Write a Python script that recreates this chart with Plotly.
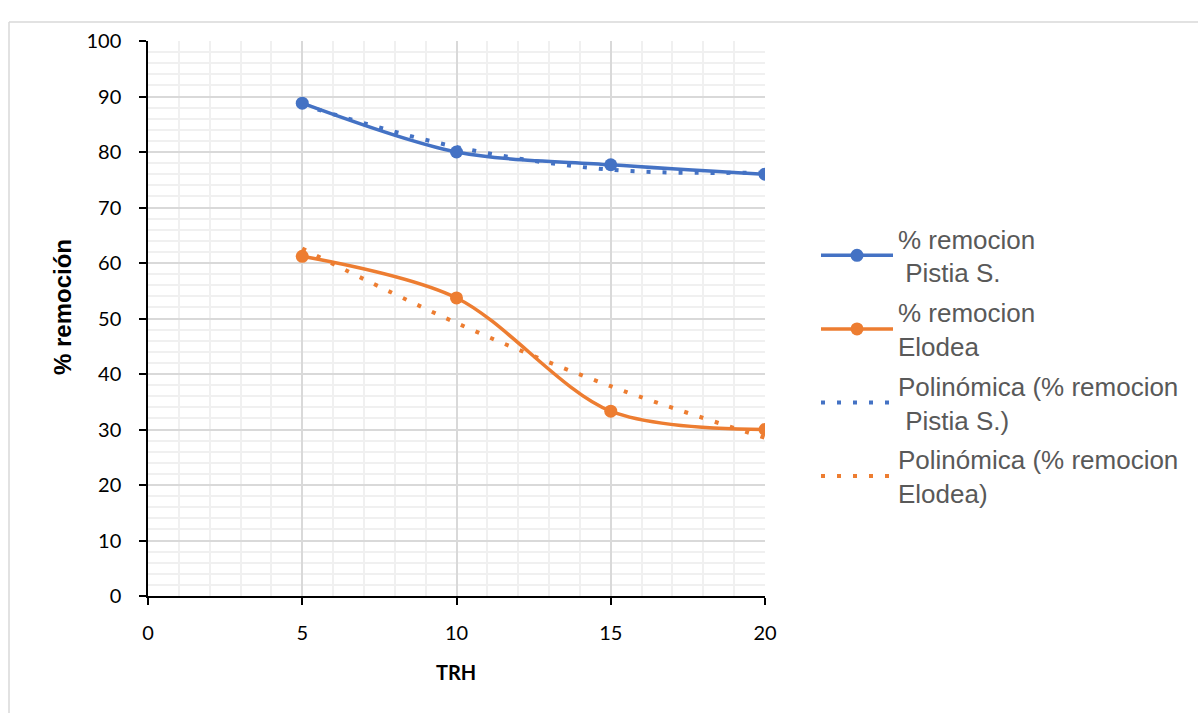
import plotly.graph_objects as go

# Data
trh = [5, 10, 15, 20]
pistia = [88.8, 80.0, 77.7, 76.0]
elodea = [61.2, 53.7, 33.3, 30.0]
# Polynomial (order 2) trendline values read at the same TRH points
pistia_trend = [88.5, 80.9, 76.8, 76.3]
elodea_trend = [62.6, 49.2, 37.8, 28.5]

names = [
    "% remocion<br>\u00a0Pistia S.",
    "% remocion<br>Elodea",
    "Polinómica (% remocion<br>\u00a0Pistia S.)",
    "Polinómica (% remocion<br>Elodea)",
]

BLUE = "#4472C4"
ORANGE = "#ED7D31"

W, H = 1198, 713
L, R, T, B = 148, 765, 41, 596


def px(x):
    return (x - L) / (R - L)


def py(y):
    return (B - y) / (B - T)


fig = go.Figure()
fig.add_trace(go.Scatter(
    x=trh, y=pistia, name=names[0], mode="lines+markers",
    line=dict(color=BLUE, width=3.5, shape="spline", smoothing=0.9),
    marker=dict(color=BLUE, size=13, symbol="circle"),
    legendgroup="a",
))
fig.add_trace(go.Scatter(
    x=trh, y=elodea, name=names[1], mode="lines+markers",
    line=dict(color=ORANGE, width=3.5, shape="spline", smoothing=0.9),
    marker=dict(color=ORANGE, size=13, symbol="circle"),
    legendgroup="b",
))
fig.add_trace(go.Scatter(
    x=trh, y=pistia_trend, name=names[2], mode="lines",
    line=dict(color=BLUE, width=4, dash="4px,12px", shape="spline", smoothing=1.0),
    legendgroup="c",
))
fig.add_trace(go.Scatter(
    x=trh, y=elodea_trend, name=names[3], mode="lines",
    line=dict(color=ORANGE, width=4, dash="4px,12px", shape="spline", smoothing=1.0),
    legendgroup="d",
))

tickfont = dict(family="Lato, Carlito, Calibri, sans-serif", size=20, color="#000000")

fig.update_xaxes(
    range=[0, 20], dtick=5, tick0=0,
    showline=True, linecolor="#000000", linewidth=1.5,
    ticks="outside", ticklen=7, tickcolor="#000000", tickwidth=1.5,
    ticklabelstandoff=11,
    showgrid=True, gridcolor="#d9d9d9", gridwidth=1.5,
    minor=dict(dtick=1, showgrid=True, gridcolor="#f0f0f0", gridwidth=1.5),
    tickfont=tickfont, zeroline=False,
)
fig.update_yaxes(
    range=[0, 100], dtick=10, tick0=0,
    showline=True, linecolor="#000000", linewidth=1.5,
    ticks="outside", ticklen=7, tickcolor="#000000", tickwidth=1.5,
    ticklabelstandoff=14,
    showgrid=True, gridcolor="#d9d9d9", gridwidth=1.5,
    minor=dict(dtick=2, showgrid=True, gridcolor="#f0f0f0", gridwidth=1.5),
    tickfont=tickfont, zeroline=False,
)

fig.add_annotation(
    text="<b>% remoción</b>", x=px(62), y=py(307), xref="paper", yref="paper",
    xanchor="center", yanchor="middle",
    textangle=-90, showarrow=False,
    font=dict(family="Liberation Sans, Arial, sans-serif", size=24, color="#000000"),
)
fig.add_annotation(
    text="<b>TRH</b>", x=px(456), y=py(672), xref="paper", yref="paper",
    xanchor="center", yanchor="middle",
    showarrow=False,
    font=dict(family="Lato, Carlito, Calibri, sans-serif", size=20, color="#000000"),
)

# outer chart-area border
fig.add_shape(type="line", xref="paper", yref="paper",
              x0=px(9), x1=px(1198), y0=py(22), y1=py(22),
              line=dict(color="#d9d9d9", width=1.5))
fig.add_shape(type="line", xref="paper", yref="paper",
              x0=px(9), x1=px(9), y0=py(22), y1=py(713),
              line=dict(color="#d9d9d9", width=1.5))

fig.update_layout(
    width=W, height=H,
    margin=dict(l=L, r=W - R, t=T, b=H - B, autoexpand=False),
    paper_bgcolor="#ffffff", plot_bgcolor="#ffffff",
    showlegend=True,
    legend=dict(
        x=px(816), y=py(215), xanchor="left", yanchor="top",
        font=dict(family="Liberation Sans, Arial, sans-serif", size=26, color="#595959"),
        tracegroupgap=3, itemwidth=72,
        bgcolor="rgba(0,0,0,0)",
    ),
)

fig.write_html("out.html", config={"displayModeBar": False},
               post_script="document.body.style.margin='0';")
